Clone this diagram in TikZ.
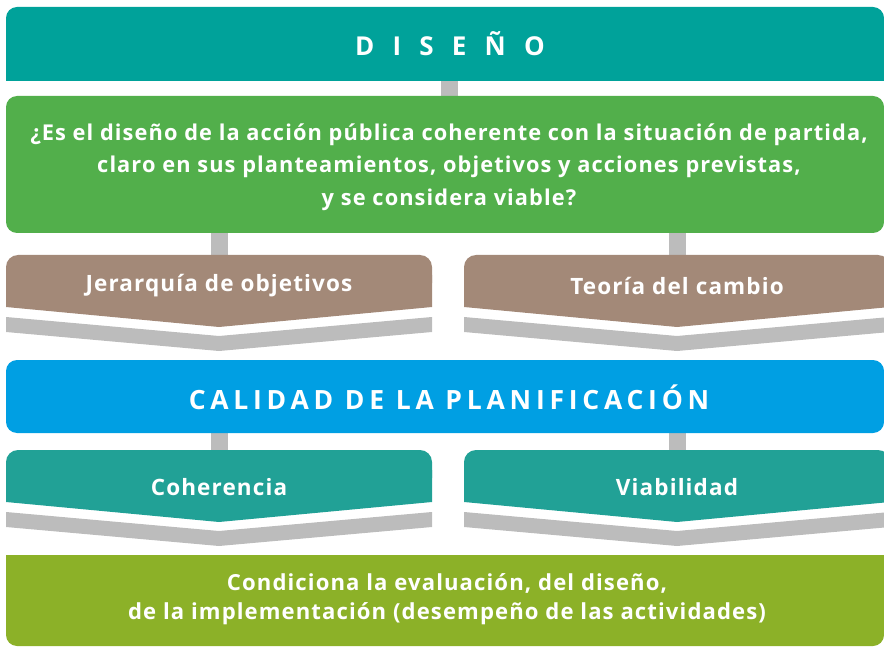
\documentclass[tikz,border=0pt]{standalone}
\usepackage{fontspec}
\setmainfont{Open Sans}
\newfontfamily\fwide[LetterSpace=70]{Open Sans}
\newfontfamily\fmid[LetterSpace=18]{Open Sans}
\newfontfamily\fsmall[LetterSpace=5]{Open Sans}
\definecolor{cteal}{HTML}{00A29A}
\definecolor{cgreen}{HTML}{52AF4B}
\definecolor{cbrown}{HTML}{A38978}
\definecolor{cblue}{HTML}{009FE3}
\definecolor{cteal2}{HTML}{21A196}
\definecolor{colive}{HTML}{8CB128}
\definecolor{cgrey}{HTML}{BCBCBC}
\tikzset{
  conn/.style={draw=cgrey, line width=17pt},
  lbl/.style={text=white, align=center, inner sep=0pt},
  chev/.style={fill=cgrey},
}
\newcommand{\arrowshape}[3]{% #1 left x, #2 top y, #3 colour
  \fill[#3, rounded corners=12pt] (#1,#2) rectangle ++(426,40);
  \fill[#3] (#1,#2+20) -- ++(426,0) -- ++(0,32) -- ++(-213,20) -- ++(-213,-20) -- cycle;
  \fill[chev] (#1,#2+62) -- ++(213,19) -- ++(213,-19) -- ++(0,15) -- ++(-213,19) -- ++(-213,-19) -- cycle;
}
\begin{document}
\begin{tikzpicture}[x=1pt,y=-1pt]
\useasboundingbox (0,0) rectangle (884,647);
\clip (0,0) rectangle (884,647);
% coordinates for connectors
\coordinate (c1a) at (449,80);
\coordinate (c1b) at (449,97);
\coordinate (c2a) at (219,232);
\coordinate (c2b) at (219,256);
\coordinate (c3a) at (677,232);
\coordinate (c3b) at (677,256);
\coordinate (c4a) at (219,432);
\coordinate (c4b) at (219,451);
\coordinate (c5a) at (677,432);
\coordinate (c5b) at (677,451);
\draw[conn] (c1a) -- (c1b);
\draw[conn] (c2a) -- (c2b);
\draw[conn] (c3a) -- (c3b);
\draw[conn] (c4a) -- (c4b);
\draw[conn] (c5a) -- (c5b);
% DISEÑO box
\fill[cteal, rounded corners=11pt] (6,7) rectangle (884,81);
\fill[cteal] (6,50) rectangle (884,81);
% green box
\fill[cgreen, rounded corners=11pt] (6,96) rectangle (884,233);
% brown arrows
\arrowshape{6}{255}{cbrown}
\arrowshape{464}{255}{cbrown}
% blue box
\fill[cblue, rounded corners=11pt] (6,360) rectangle (884,433);
% teal arrows
\arrowshape{6}{450}{cteal2}
\arrowshape{464}{450}{cteal2}
% olive box
\fill[colive, rounded corners=11pt] (6,555) rectangle (884,646);
\fill[colive] (6,555) rectangle (884,590);
% texts
\node[lbl, font=\fwide\bfseries\fontsize{26}{30}\selectfont] (tdis) at (450,44) {DISEÑO};
\node[lbl, font=\fsmall\bfseries\fontsize{21.8}{32.5}\selectfont] (tq) at (449,167) {¿Es el diseño de la acción pública coherente con la situación de partida,\\claro en sus planteamientos, objetivos y acciones previstas,\\y se considera viable?};
\node[lbl, font=\fsmall\bfseries\fontsize{22.5}{24}\selectfont] (tjer) at (219,286) {Jerarquía de objetivos};
\node[lbl, font=\fsmall\bfseries\fontsize{22.5}{24}\selectfont] (tteo) at (677,286) {Teoría del cambio};
\node[lbl, font=\fmid\bfseries\fontsize{26.5}{30}\selectfont] (tcal) at (449,397) {CALIDAD DE LA PLANIFICACIÓN};
\node[lbl, font=\fsmall\bfseries\fontsize{22.5}{24}\selectfont] (tcoh) at (219,487) {Coherencia};
\node[lbl, font=\fsmall\bfseries\fontsize{22.5}{24}\selectfont] (tvia) at (677,487) {Viabilidad};
\node[lbl, font=\fsmall\bfseries\fontsize{22.1}{28.5}\selectfont] (tcon) at (447,599) {Condiciona la evaluación, del diseño,\\de la implementación (desempeño de las actividades)};
\end{tikzpicture}
\end{document}
